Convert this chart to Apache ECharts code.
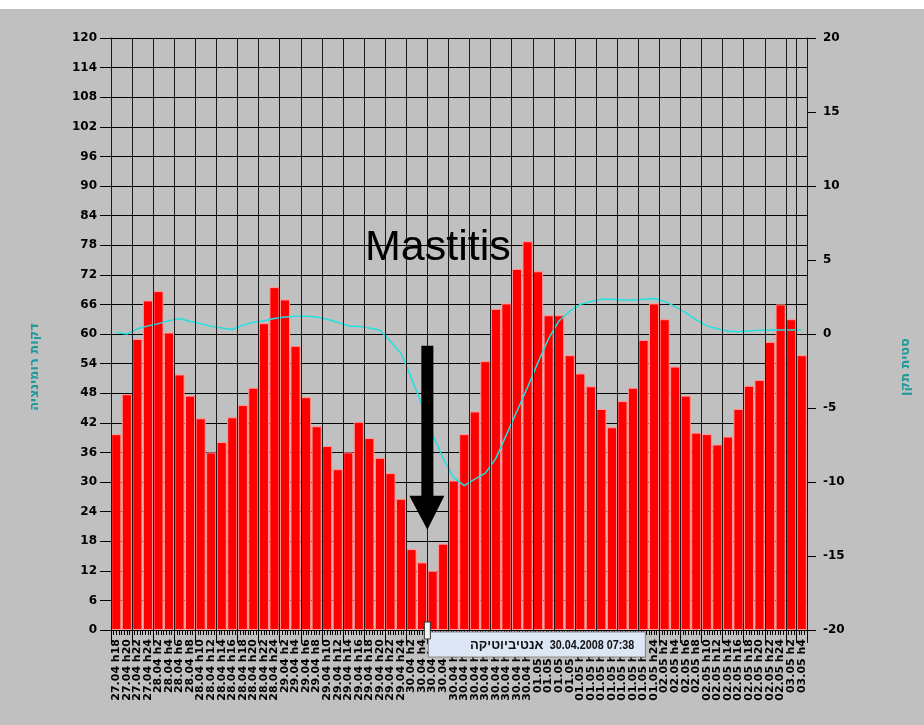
<!doctype html>
<html lang="he">
<head>
<meta charset="UTF-8">
<title>Mastitis</title>
<script src="https://cdn.jsdelivr.net/npm/echarts@6.0.0/dist/echarts.min.js"></script>
<style>
  html, body { margin: 0; padding: 0; background: #ffffff; }
  #main { width: 924px; height: 725px; }
</style>
</head>
<body>
<div id="main"></div>
<script type="text/javascript">
// time slots, every 2 hours
var categories = [
    '27.04 h18','27.04 h20','27.04 h22','27.04 h24',
    '28.04 h2','28.04 h4','28.04 h6','28.04 h8','28.04 h10','28.04 h12','28.04 h14','28.04 h16','28.04 h18','28.04 h20','28.04 h22','28.04 h24',
    '29.04 h2','29.04 h4','29.04 h6','29.04 h8','29.04 h10','29.04 h12','29.04 h14','29.04 h16','29.04 h18','29.04 h20','29.04 h22','29.04 h24',
    '30.04 h2','30.04 h4','30.04 h6','30.04 h8','30.04 h10','30.04 h12','30.04 h14','30.04 h16','30.04 h18','30.04 h20','30.04 h22','30.04 h24',
    '01.05 h2','01.05 h4','01.05 h6','01.05 h8','01.05 h10','01.05 h12','01.05 h14','01.05 h16','01.05 h18','01.05 h20','01.05 h22','01.05 h24',
    '02.05 h2','02.05 h4','02.05 h6','02.05 h8','02.05 h10','02.05 h12','02.05 h14','02.05 h16','02.05 h18','02.05 h20','02.05 h22','02.05 h24',
    '03.05 h2','03.05 h4'
];

// דקות רומינציה (left axis)
var rumination = [
    39.7, 47.8, 59.0, 66.8, 68.7, 60.3, 51.8, 47.5, 42.9, 36.0,
    38.1, 43.1, 45.6, 49.1, 62.2, 69.5, 67.0, 57.6, 47.2, 41.3,
    37.3, 32.6, 36.0, 42.2, 38.9, 34.9, 31.8, 26.6, 16.4, 13.7,
    12.0, 17.5, 30.3, 39.7, 44.3, 54.5, 65.1, 66.2, 73.2, 78.8,
    72.7, 63.8, 63.8, 55.7, 52.0, 49.4, 44.8, 41.1, 46.4, 49.1,
    58.8, 66.2, 63.0, 53.4, 47.5, 40.0, 39.7, 37.6, 39.2, 44.8,
    49.5, 50.7, 58.4, 66.0, 63.0, 55.7
];

// סטית תקן (right axis)
var deviation = [
    0.1, 0.0, 0.35, 0.55, 0.7, 0.9, 1.05, 0.85, 0.7, 0.52,
    0.4, 0.3, 0.6, 0.8, 0.9, 1.05, 1.15, 1.2, 1.2, 1.15,
    1.0, 0.8, 0.54, 0.5, 0.4, 0.25, -0.5, -1.3, -3.0, -4.8,
    -6.8, -8.4, -9.7, -10.25, -9.8, -9.4, -8.4, -6.8, -5.2, -3.6,
    -1.9, -0.3, 0.9, 1.55, 2.0, 2.2, 2.35, 2.35, 2.3, 2.3,
    2.35, 2.4, 2.2, 1.85, 1.45, 0.95, 0.55, 0.35, 0.2, 0.15,
    0.2, 0.25, 0.27, 0.27, 0.27, 0.27
];

var leftTicks = { min: 0, max: 120, interval: 6 };
var rightTicks = { min: -20, max: 20, interval: 5 };

var eventIndex = 29;          // antibiotics given between h4 and h6 on 30.04
var eventName = 'אנטיביוטיקה';
var eventTime = '30.04.2008 07:38';

// fine ticks under the axis, four per slot
var fineTicks = [];
for (var i = 0; i < categories.length * 4; i++) { fineTicks.push(String(i)); }

var myChart = echarts.init(document.getElementById('main'));

var labelFont = { color: '#000', fontFamily: 'DejaVu Sans', fontWeight: 'bold', fontSize: 12 };
var nameFont = { color: '#1f9a9a', fontFamily: 'DejaVu Sans', fontWeight: 'bold', fontSize: 13, padding: [0, 66, 0, 0] };

var option = {
    backgroundColor: '#c0c0c0',
    animation: false,
    grid: {
        left: 111, right: 117, top: 38, bottom: 95,
        containLabel: false,
        outerBoundsMode: 'none'
    },
    xAxis: [
        {
            type: 'category',
            data: categories,
            position: 'bottom',
            axisLine: { onZero: false, lineStyle: { color: '#000', width: 1 } },
            axisTick: { show: true, interval: 1, length: 13, lineStyle: { color: '#000' } },
            splitLine: { show: true, interval: 1, lineStyle: { color: '#1a1a1a', width: 1 } },
            axisLabel: {
                interval: 0, rotate: 90, margin: 9,
                color: '#000', fontFamily: 'DejaVu Sans', fontWeight: 'bold', fontSize: 11
            },
            z: 4
        },
        {
            // fine ticks: a top axis moved onto the left axis' zero, ticks turned downward
            type: 'category',
            data: fineTicks,
            axisLine: { show: false, onZero: true, onZeroAxisIndex: 0 },
            axisTick: { show: true, inside: true, interval: 0, length: 5, lineStyle: { color: '#000', width: 1 } },
            axisLabel: { show: false },
            splitLine: { show: false },
            z: 4
        }
    ],
    yAxis: [
        {
            type: 'value',
            min: leftTicks.min, max: leftTicks.max, interval: leftTicks.interval,
            position: 'left',
            name: 'דקות רומינציה',
            nameLocation: 'middle',
            nameGap: 70,
            nameRotate: 90,
            nameTextStyle: nameFont,
            axisLine: { show: true, lineStyle: { color: '#000' } },
            axisTick: { show: true, length: 11, lineStyle: { color: '#000' } },
            splitLine: { show: true, lineStyle: { color: '#000', width: 1 } },
            axisLabel: Object.assign({ margin: 14 }, labelFont)
        },
        {
            type: 'value',
            min: rightTicks.min, max: rightTicks.max, interval: rightTicks.interval,
            position: 'right',
            name: 'סטית תקן',
            nameLocation: 'middle',
            nameGap: 92,
            nameRotate: 90,
            nameTextStyle: nameFont,
            axisLine: { show: true, lineStyle: { color: '#000' } },
            axisTick: { show: true, length: 9, lineStyle: { color: '#000' } },
            splitLine: { show: false },
            axisLabel: Object.assign({ margin: 16 }, labelFont)
        }
    ],
    series: [
        {
            name: 'דקות רומינציה',
            type: 'bar',
            xAxisIndex: 0,
            yAxisIndex: 0,
            barCategoryGap: '4%',
            itemStyle: { color: '#ff0000', borderColor: '#ff9a9a', borderWidth: 1 },
            data: rumination
        },
        {
            name: 'סטית תקן',
            type: 'line',
            xAxisIndex: 0,
            yAxisIndex: 1,
            showSymbol: false,
            symbol: 'none',
            lineStyle: { color: '#20e0e0', width: 1.5 },
            data: deviation,
            z: 3
        }
    ]
};

myChart.setOption(option);

// annotations placed from the axes
var xa = myChart.convertToPixel({ xAxisIndex: 0 }, categories[eventIndex]);
var xb = myChart.convertToPixel({ xAxisIndex: 0 }, categories[eventIndex + 1]);
var xm = (xa + xb) / 2;
var yShaft = myChart.convertToPixel({ yAxisIndex: 0 }, 57.6);
var yHead = myChart.convertToPixel({ yAxisIndex: 0 }, 27.2);
var yTip = myChart.convertToPixel({ yAxisIndex: 0 }, 20.3);
var yBase = myChart.convertToPixel({ yAxisIndex: 0 }, 0);

var boxFont = 'bold 13px "Liberation Sans", Arial, sans-serif';

myChart.setOption({
    graphic: [
        { type: 'rect', left: 0, top: 0, shape: { width: 924, height: 9 }, style: { fill: '#ffffff' }, z: 100 },
        {
            type: 'text', x: 365, y: 227, z: 100,
            style: { text: 'Mastitis', fill: '#000', font: '43px "Liberation Sans", Arial, sans-serif', textVerticalAlign: 'top' }
        },
        {
            type: 'rect', z: 100,
            shape: { x: xm - 6, y: yShaft, width: 12, height: yHead - yShaft + 1 },
            style: { fill: '#000' }
        },
        {
            type: 'polygon', z: 100,
            shape: { points: [[xm - 18, yHead], [xm + 17, yHead], [xm, yTip]] },
            style: { fill: '#000' }
        },
        {
            type: 'rect', z: 100,
            shape: { x: xm + 1, y: yBase + 2, width: 217, height: 25 },
            style: { fill: '#dde6f4', stroke: '#8c8c8c', lineWidth: 1 }
        },
        {
            type: 'text', z: 101, x: xm + 207, y: yBase + 15, scaleX: 0.83,
            style: { text: eventTime, fill: '#111', font: boxFont, textAlign: 'right', textVerticalAlign: 'middle' }
        },
        {
            type: 'text', z: 101, x: xm + 116, y: yBase + 15,
            style: { text: eventName, fill: '#111', font: boxFont, textAlign: 'right', textVerticalAlign: 'middle' }
        },
        {
            type: 'rect', z: 102,
            shape: { x: xm - 3, y: yBase - 8, width: 6, height: 17 },
            style: { fill: '#f4f4f4', stroke: '#333', lineWidth: 1 }
        }
    ]
});
</script>
</body>
</html>
